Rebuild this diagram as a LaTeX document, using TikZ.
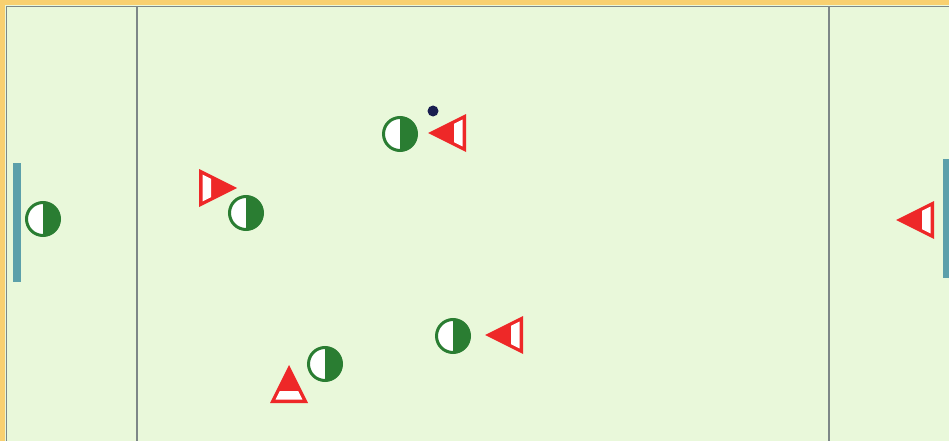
\documentclass[tikz,border=0pt]{standalone}
\usetikzlibrary{calc}
\definecolor{fieldbg}{RGB}{233,248,218}
\definecolor{frameor}{RGB}{248,208,112}
\definecolor{lineg}{RGB}{125,135,135}
\definecolor{pgreen}{RGB}{42,125,50}
\definecolor{pred}{RGB}{238,40,40}
\definecolor{goalteal}{RGB}{92,160,170}
\definecolor{ballc}{RGB}{25,30,80}
\tikzset{
  player/.style={circle, minimum size=33pt, inner sep=0pt, draw=pgreen, line width=3pt, fill=white,
    path picture={\fill[pgreen] (path picture bounding box.north) rectangle (path picture bounding box.south east);}},
  ballnode/.style={circle, minimum size=11pt, inner sep=0pt, fill=ballc},
  goalbar/.style={fill=goalteal},
  fieldline/.style={draw=lineg, line width=2.4pt},
}
\newcommand{\oppo}[3]{%
  \begin{scope}[shift={(#2)}, rotate=#3]
    \coordinate (#1) at (0,0);
    \fill[pred] (19,0) -- (-19,19) -- (-19,-19) -- cycle;
    \fill[white] (-15.5,13.4) -- (-7,9.2) -- (-7,-9.2) -- (-15.5,-13.4) -- cycle;
  \end{scope}}
\begin{document}
\begin{tikzpicture}[x=1pt,y=-1pt]
  \useasboundingbox (0,0) rectangle (949,441);
  \fill[frameor] (0,0) rectangle (949,441);
  \fill[fieldbg] (5,5) rectangle (949,441);
  \draw[lineg, line width=1.8pt] (6.5,441) -- (6.5,6.5) -- (949,6.5);
  \draw[fieldline] (137,7) -- (137,441);
  \draw[fieldline] (829,7) -- (829,441);
  % goals
  \fill[goalbar] (13,163) rectangle (21,282);
  \fill[goalbar] (943,159) rectangle (949,278);
  % green players
  \node[player] (g1) at (43,219) {};
  \node[player] (g2) at (246,213) {};
  \node[player] (g3) at (400,134) {};
  \node[player] (g4) at (325,364) {};
  \node[player] (g5) at (453,336) {};
  % red opponents
  \oppo{r1}{218,188}{0}
  \oppo{r2}{447,133}{180}
  \oppo{r3}{504,335}{180}
  \oppo{r4}{915,220}{180}
  \oppo{r5}{289,384}{90}
  % ball
  \node[ballnode] (ball) at (433,111) {};
\end{tikzpicture}
\end{document}
